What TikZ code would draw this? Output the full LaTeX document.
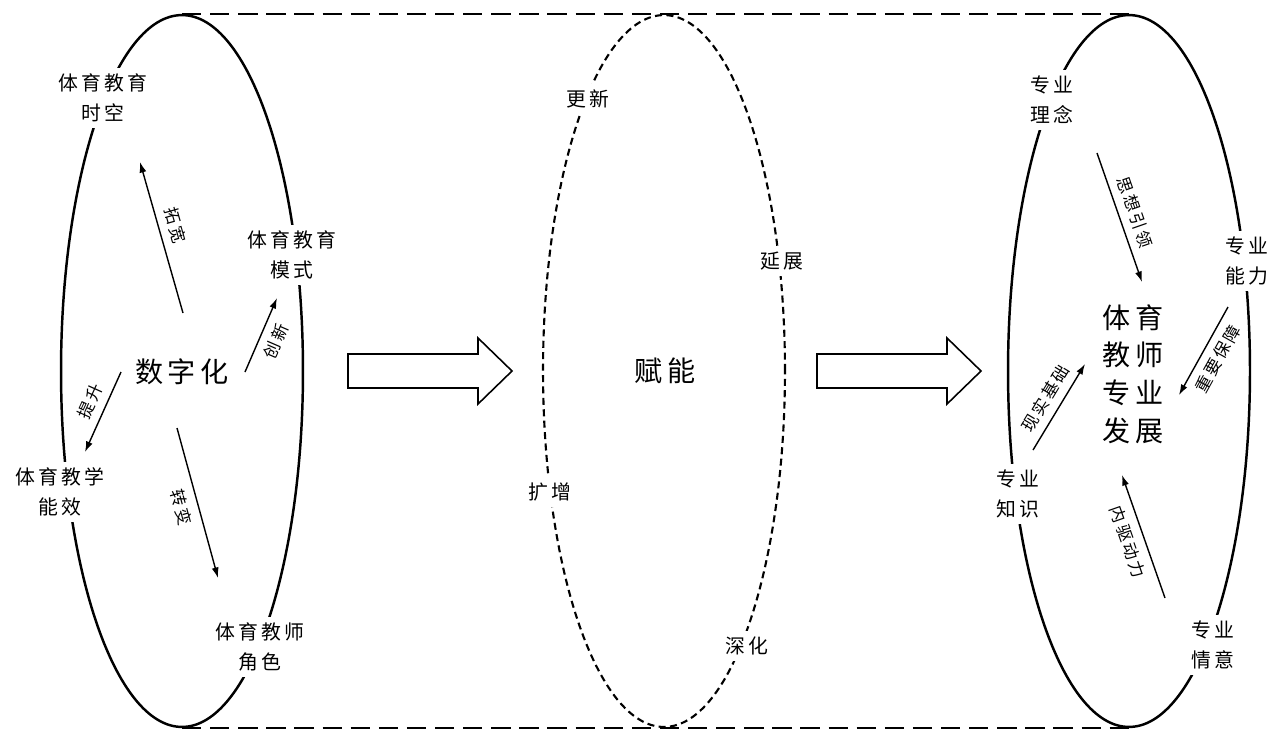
\documentclass[tikz,border=0pt]{standalone}
\usepackage{fontspec}
\newfontfamily\cjk[LetterSpace=15]{Noto Sans CJK SC}
\usetikzlibrary{shapes.geometric, arrows.meta, positioning, calc}

\begin{document}
\begin{tikzpicture}[
      x=0.02cm, y=-0.02cm,
      cyl/.style={ellipse, draw=black, line width=1.4pt, inner sep=0pt,
                  minimum width=4.84cm, minimum height=14.24cm},
      lbl/.style={font=\cjk\fontsize{11.3pt}{17pt}\selectfont, align=center,
                  fill=white, inner sep=3.5pt},
      big/.style={font=\cjk\fontsize{16pt}{21.5pt}\selectfont, align=center},
      tag/.style={font=\cjk\fontsize{9.5pt}{11pt}\selectfont, inner sep=1.5pt},
      arr/.style={-{Latex[length=6pt,width=4pt]}, line width=0.8pt},
      blockarr/.style={draw=black, line width=0.9pt, fill=white}
    ]
    \useasboundingbox (0,0) rectangle (1281,735);
    % the three sections
    \node[cyl] (lcyl) at (182,371) {};
    \node[cyl, line width=1.2pt, dash pattern=on 4pt off 2.5pt] (mcyl) at (664,371) {};
    \node[cyl] (rcyl) at (1129,371) {};
    \draw[line width=1.1pt, dash pattern=on 11pt off 5pt] (lcyl.north) -- (rcyl.north);
    \draw[line width=1.1pt, dash pattern=on 11pt off 5pt] (lcyl.south) -- (rcyl.south);

    % left part
    \node[big] (szh) at (182,372) {数字化};
    \node[lbl] (skong) at (103,98) {体育教育\\时空};
    \node[lbl] (moshi) at (292,255) {体育教育\\模式};
    \node[lbl] (nengxiao) at (60,492) {体育教学\\能效};
    \node[lbl] (juese) at (260,647) {体育教师\\角色};
    \draw[arr] ([shift={(1,-59)}]szh.center) -- node[tag, pos=0.55, above=3pt, sloped] {拓宽} ([shift={(37,64)}]skong.center);
    \draw[arr] ([shift={(63,0)}]szh.center) -- node[tag, midway, below=3pt, sloped] {创新} ([shift={(-15,43)}]moshi.center);
    \draw[arr] ([shift={(-61,0)}]szh.center) -- node[tag, pos=0.45, above=3pt, sloped] {提升} ([shift={(25,-40)}]nengxiao.center);
    \draw[arr] ([shift={(-5,56)}]szh.center) -- node[tag, midway, below=3pt, sloped] {转变} ([shift={(-42,-69)}]juese.center);

    % middle part
    \node[big] (funeng) at (665,371) {赋能};
    \node[lbl] (gengxin) at (588,99) {更新};
    \node[lbl] (yanzhan) at (782,261) {延展};
    \node[lbl] (kuozeng) at (550,492) {扩增};
    \node[lbl] (shenhua) at (747,646) {深化};

    % block arrows
    \foreach \bx in {348, 817}
      \draw[blockarr] (\bx,354) -- ++(130,0) -- ++(0,-16) -- ++(34,33)
        -- ++(-34,33) -- ++(0,-16) -- ++(-130,0) -- cycle;

    % right part
    \node[big] (fazhan) at (1133,374) {体育\\教师\\专业\\发展};
    \node[lbl] (linian) at (1052,100) {专业\\理念};
    \node[lbl] (nengli) at (1247,261) {专业\\能力};
    \node[lbl] (zhishi) at (1018,494) {专业\\知识};
    \node[lbl] (qingyi) at (1213,645) {专业\\情意};
    \draw[arr] ([shift={(45,53)}]linian.center) -- node[tag, midway, above=3pt, sloped] {思想引领} ([shift={(9,-92)}]fazhan.center);
    \draw[arr] ([shift={(-19,46)}]nengli.center) -- node[tag, midway, below=3pt, sloped] {重要保障} ([shift={(46,21)}]fazhan.center);
    \draw[arr] ([shift={(15,-44)}]zhishi.center) -- node[tag, midway, above=3pt, sloped] {现实基础} ([shift={(-48,-10)}]fazhan.center);
    \draw[arr] ([shift={(-48,-47)}]qingyi.center) -- node[tag, midway, below=3pt, sloped] {内驱动力} ([shift={(-11,101)}]fazhan.center);
  \end{tikzpicture}
\end{document}
